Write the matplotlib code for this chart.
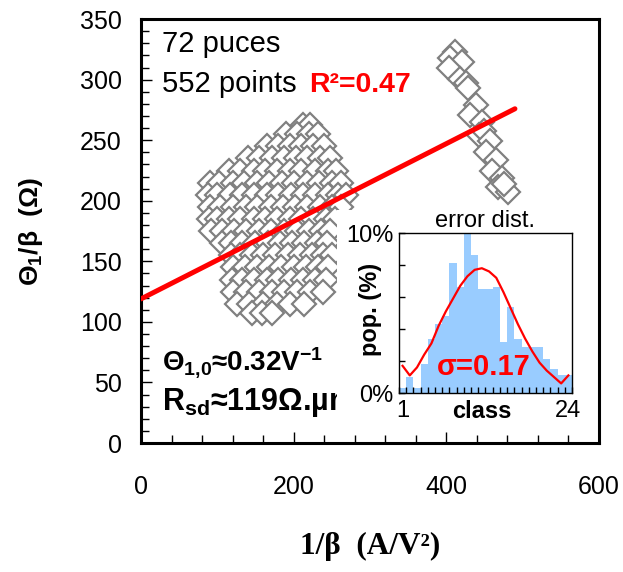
import matplotlib
matplotlib.use("Agg")
import matplotlib.pyplot as plt
from matplotlib.patches import Rectangle
from matplotlib.ticker import MultipleLocator, FixedLocator, FixedFormatter

plt.rcParams['font.family'] = ['Liberation Sans', 'DejaVu Sans']
plt.rcParams['mathtext.fontset'] = 'custom'
plt.rcParams['mathtext.rm'] = 'Liberation Sans'
plt.rcParams['mathtext.bf'] = 'Liberation Sans:bold'
plt.rcParams['mathtext.it'] = 'Liberation Sans:italic'

# main cluster, read row by row (y value, then x values of the row)
row_y = [263, 255, 245, 235, 225, 215, 205, 195, 185, 175, 165, 155, 145, 135, 125, 115, 107]
row_x = [
    [212, 222],
    [190, 205, 220, 232],
    [165, 180, 195, 210, 225, 240],
    [140, 155, 172, 188, 203, 218, 235, 248],
    [115, 130, 148, 163, 178, 195, 210, 228, 245, 255],
    [90, 102, 120, 135, 152, 168, 185, 200, 217, 233, 250, 262],
    [88, 100, 116, 132, 148, 165, 180, 196, 212, 228, 245, 258, 268],
    [90, 104, 120, 137, 152, 170, 186, 202, 218, 235, 250, 262],
    [89, 100, 115, 130, 148, 163, 178, 195, 210, 226, 242, 254],
    [92, 106, 122, 138, 155, 170, 188, 204, 220, 236, 248],
    [106, 118, 133, 150, 166, 182, 198, 214, 230, 244],
    [118, 130, 145, 160, 176, 192, 208, 224, 238, 250],
    [120, 136, 152, 168, 184, 200, 216, 232, 245],
    [119, 133, 148, 165, 180, 196, 212, 228, 242],
    [121, 138, 155, 172, 188, 205, 222, 238],
    [126, 142, 160, 178, 195, 213],
    [146, 158, 172],
]

# second (narrow) cluster
c2_x = [411, 405, 421, 404, 418, 426, 429, 439, 431, 447, 443, 450, 457, 452, 465, 460, 473, 468, 481, 476]
c2_y = [323, 318, 315, 310, 301, 297, 293, 279, 271, 265, 254, 258, 249, 240, 234, 225, 219, 211, 207, 214]

# linear fit
fit_x = [0, 490]
fit_y = [119, 276]

# inset: error distribution
classes = list(range(1, 25))
pop = [0.3, 1.0, 0.3, 1.8, 3.4, 4.3, 4.8, 8.1, 6.6, 10.2, 8.6, 6.5,
       6.5, 6.6, 3.2, 5.4, 3.4, 2.9, 2.9, 2.9, 2.1, 1.5, 1.1, 1.1]
gauss = [1.7, 1.1, 1.6, 2.4, 3.1, 4.2, 5.1, 5.9, 6.7, 7.3, 7.7, 7.8,
         7.6, 7.2, 6.3, 5.3, 4.3, 3.4, 2.6, 1.9, 1.4, 1.0, 0.6, 1.1]

fig = plt.figure(figsize=(6.23, 5.72), dpi=100)
ax = fig.add_axes([0.2263, 0.2255, 0.735, 0.741])

xs, ys = [], []
for y, row in zip(row_y, row_x):
    for x in row:
        xs.append(x)
        ys.append(y)
ax.plot(xs, ys, ls='none', marker='D', ms=12, mfc='white', mec='#808080', mew=1.6, zorder=2)
ax.plot(c2_x, c2_y, ls='none', marker='D', ms=12, mfc='white', mec='#808080', mew=1.6, zorder=2)
ax.plot(fit_x, fit_y, color='#FF0000', lw=3.6, solid_capstyle='round', zorder=3)

ax.set_xlim(0, 600)
ax.set_ylim(0, 350)
ax.set_xticks([0, 200, 400, 600])
ax.xaxis.set_minor_locator(MultipleLocator(40))
ax.set_yticks(range(0, 351, 50))
ax.yaxis.set_minor_locator(MultipleLocator(10))
ax.tick_params(which='both', direction='in', top=False, right=False, width=1)
ax.tick_params(which='major', length=8, labelsize=18)
ax.tick_params(which='minor', length=6)
ax.tick_params(axis='x', pad=23)
ax.tick_params(axis='y', pad=14)
for s in ax.spines.values():
    s.set_linewidth(2.2)

ax.set_ylabel(r'Θ$_{\mathbf{1}}$/β  (Ω)', fontsize=19, fontweight='bold')
ax.yaxis.set_label_coords(-0.21, 0.5)
ax.set_xlabel('1/β  (A/V²)', fontsize=22.5, fontweight='bold', family='Liberation Serif')
ax.xaxis.set_label_coords(0.5, -0.21)

ax.text(0.046, 0.922, '72 puces', transform=ax.transAxes, fontsize=21)
ax.text(0.046, 0.828, '552 points', transform=ax.transAxes, fontsize=21)
ax.text(0.368, 0.828, 'R²=0.47', transform=ax.transAxes, fontsize=20.5,
        fontweight='bold', color='#FF0000')
ax.text(0.046, 0.172, r'Θ$_{\mathbf{1{,}0}}$≈0.32V$^{\mathbf{-1}}$', transform=ax.transAxes,
        fontsize=20, fontweight='bold')
ax.text(0.046, 0.078, r'R$_{\mathbf{sd}}$≈119Ω.µm', transform=ax.transAxes,
        fontsize=22, fontweight='bold')

# white chart area behind the inset
fig.add_artist(Rectangle((337 / 623, 1 - 432 / 572), 250 / 623, 222 / 572,
                         transform=fig.transFigure, facecolor='white',
                         edgecolor='none', zorder=1))

ins = fig.add_axes([0.6404, 0.3129, 0.2777, 0.2797], zorder=2)
ins.bar(classes, pop, width=1.0, color='#99CCFF', edgecolor='none')
ins.plot(classes, gauss, color='#FF0000', lw=1.6)
ins.set_xlim(0.5, 24.5)
ins.set_ylim(0, 10)
ins.xaxis.set_major_locator(FixedLocator([1, 24]))
ins.xaxis.set_minor_locator(MultipleLocator(1, offset=0.5))
ins.yaxis.set_major_locator(FixedLocator([0, 2, 4, 6, 8, 10]))
ins.yaxis.set_major_formatter(FixedFormatter(['0%', '', '', '', '', '10%']))
ins.tick_params(which='both', direction='in', top=False, right=False, width=1)
ins.tick_params(axis='x', which='major', length=0, labelsize=17, pad=5)
ins.tick_params(axis='x', which='minor', length=4)
ins.tick_params(axis='y', length=4, labelsize=17, pad=4)
for s in ins.spines.values():
    s.set_linewidth(1.0)
ins.set_xlabel('class', fontsize=17, fontweight='bold', va='center')
ins.xaxis.set_label_coords(0.48, -0.115)
ins.set_ylabel('pop. (%)', fontsize=17, fontweight='bold', va='center')
ins.yaxis.set_label_coords(-0.165, 0.52)
ins.set_title('error dist.', fontsize=17, pad=4)
ins.text(5.8, 1.6, 'σ=0.17', fontsize=21, fontweight='bold', color='#FF0000', va='center')

fig.savefig('out.png', dpi=100)
